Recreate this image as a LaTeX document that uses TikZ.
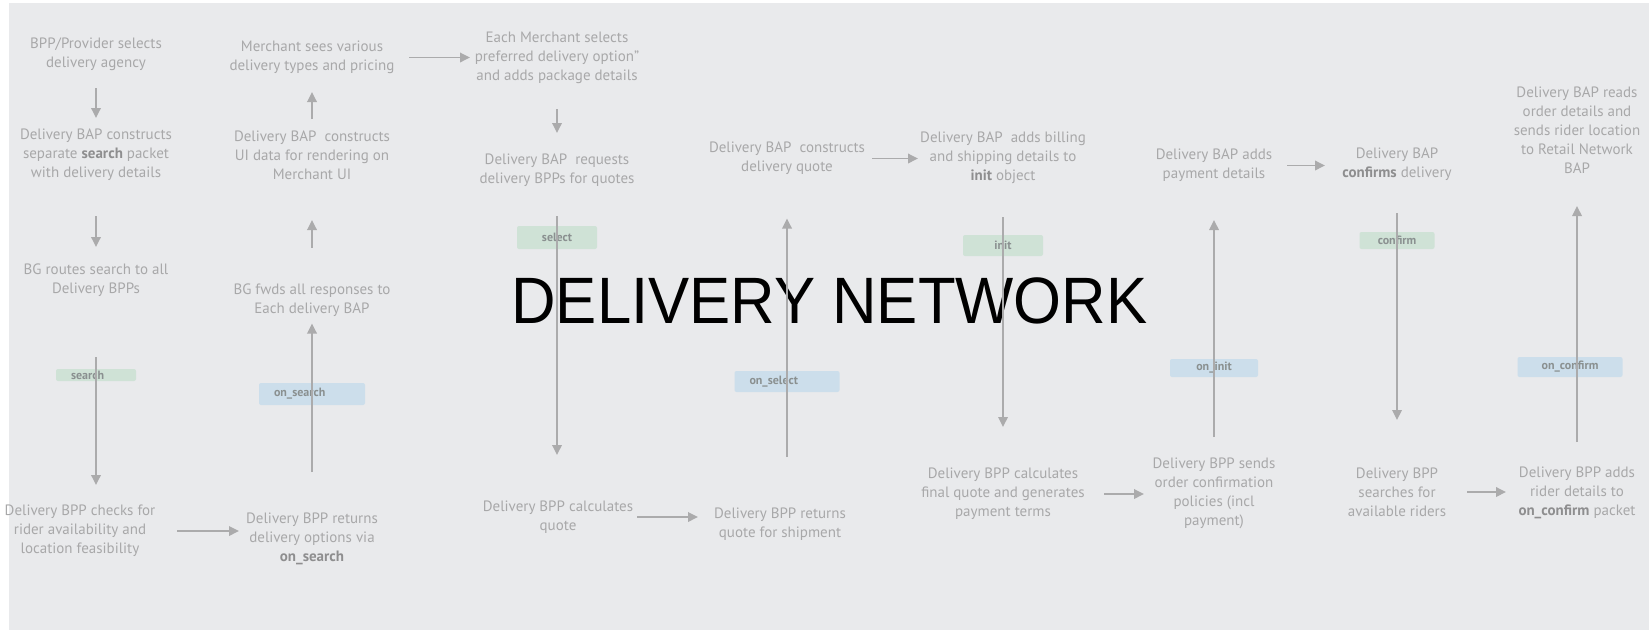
\documentclass[tikz,border=0pt]{standalone}
\usepackage{fontspec}
\setmainfont{PT Sans}
\newfontfamily\titlefont{Liberation Sans}
\usetikzlibrary{arrows.meta}
\definecolor{bggray}{HTML}{E9EAEC}
\definecolor{txtgray}{HTML}{A8A8A9}
\definecolor{keygray}{HTML}{8E8E8F}
\definecolor{arrgray}{HTML}{ABABAC}
\definecolor{reqgreen}{HTML}{CFE2D6}
\definecolor{respblue}{HTML}{CCDEEB}
\definecolor{taggray}{HTML}{8A9090}
\newcommand{\kw}[1]{\textcolor{keygray}{\bfseries #1}}

\begin{document}
\begin{tikzpicture}[x=1pt,y=-1pt,>={Triangle[length=10pt,width=9.5pt]},
  txt/.style={align=center,text=txtgray,inner sep=0pt,
    font=\fontsize{15}{19}\selectfont},
  flow/.style={draw=arrgray,line width=1.8pt,->},
  tag/.style={rounded corners=2pt,text=taggray,inner sep=0pt,
    font=\fontsize{12}{12}\selectfont\bfseries},
  lefttag/.style={align=left,inner xsep=15pt,text width=#1},
  reqtag/.style={tag,fill=reqgreen},
  resptag/.style={tag,fill=respblue}]
\useasboundingbox (0,0) rectangle (1649,630);
\fill[bggray] (9,3) rectangle (1649,630);
% title
\node[inner sep=0pt] (title) at (829.5,300.5)
  {\scalebox{0.94}[1]{\titlefont\fontsize{65.6}{70}\selectfont DELIVERY NETWORK}};
% search column
\node[txt] (n11) at (96,54) {BPP/Provider selects\\delivery agency};
\node[txt] (n12) at (96,155) {Delivery BAP constructs\\separate \kw{search} packet\\with delivery details};
\node[txt] (n13) at (96,280) {BG routes search to all\\Delivery BPPs};
\node[txt] (n14) at (80,531) {Delivery BPP checks for\\rider availability and\\location feasibility};
% on_search column
\node[txt] (n21) at (312,57.5) {Merchant sees various\\delivery types and pricing};
\node[txt] (n22) at (312,155) {Delivery BAP\ \ constructs\\UI data for rendering on\\Merchant UI};
\node[txt] (n23) at (312,300.5) {BG fwds all responses to\\Each delivery BAP};
\node[txt] (n24) at (312,539) {Delivery BPP returns\\delivery options via\\\kw{on\_search}};
% select
\node[txt] (n31) at (557,58) {Each Merchant selects\\preferred delivery option"\\and adds package details};
\node[txt] (n32) at (557,170) {Delivery BAP\ \ requests\\delivery BPPs for quotes};
\node[txt] (n33) at (558,517) {Delivery BPP calculates\\quote};
\node[txt] (n41) at (787,158.5) {Delivery BAP\ \ constructs\\delivery quote};
\node[txt] (n42) at (780,524) {Delivery BPP returns\\quote for shipment};
% init
\node[txt] (n51) at (1003,158) {Delivery BAP\ \ adds billing\\and shipping details to\\\kw{init} object};
\node[txt] (n52) at (1003,494) {Delivery BPP calculates\\final quote and generates\\payment terms};
\node[txt] (n61) at (1214,165.5) {Delivery BAP adds\\payment details};
\node[txt] (n62) at (1214,493.5) {Delivery BPP sends\\order confirmation\\policies (incl\\payment)};
% confirm
\node[txt] (n71) at (1397,164.5) {Delivery BAP\\\kw{confirms} delivery};
\node[txt] (n72) at (1397,492) {Delivery BPP\\searches for\\available riders};
\node[txt] (n81) at (1577,130) {Delivery BAP reads\\order details and\\sends rider location\\to Retail Network\\BAP};
\node[txt] (n82) at (1577,492.5) {Delivery BPP adds\\rider details to\\\kw{on\_confirm} packet};
% message tags
\node[reqtag,lefttag=50pt,minimum height=12pt] (tsearch) at (96,375) {search};
\node[resptag,lefttag=76pt,minimum height=22pt] (tonsearch) at (312,394) {on\_search};
\node[reqtag,minimum width=80pt,minimum height=23pt] (tselect) at (557,237.5) {select};
\node[resptag,lefttag=75pt,minimum height=21pt] (tonselect) at (787,381.5) {on\_select};
\node[reqtag,minimum width=80pt,minimum height=21pt] (tinit) at (1003,245.5) {init};
\node[resptag,minimum width=88pt,minimum height=18pt] (toninit) at (1214,368) {on\_init};
\node[reqtag,minimum width=75pt,minimum height=17pt] (tconfirm) at (1397,240.5) {confirm};
\node[resptag,minimum width=105pt,minimum height=20pt] (tonconfirm) at (1570,367) {on\_confirm};
% arrows
\draw[flow,shorten <=34pt,shorten >=37pt] (n11.center) -- (n12.center);
\draw[flow,shorten <=61pt,shorten >=33pt] (n12.center) -- (n13.center);
\draw[flow,shorten <=77pt,shorten >=46pt] (n13.center) -- (n13 |- n14);
\draw[flow,shorten <=97pt,shorten >=73pt] (n14.center) -- (n14 -| n24);
\draw[flow,shorten <=67pt,shorten >=23pt] (n24.center) -- (n23.center);
\draw[flow,shorten <=53pt,shorten >=65pt] (n23.center) -- (n22.center);
\draw[flow,shorten <=36pt,shorten >=34.5pt] (n22.center) -- (n21.center);
\draw[flow,shorten <=97pt,shorten >=87pt] (n21.center) -- (n21 -| n31);
\draw[flow,shorten <=51pt,shorten >=37pt] (n31.center) -- (n32.center);
\draw[flow,shorten <=46pt,shorten >=62pt] (n32.center) -- (n32 |- n33);
\draw[flow,shorten <=79pt,shorten >=82pt] (n33.center) -- (n33 -| n42);
\draw[flow,shorten <=67pt,shorten >=60pt] (n41 |- n42) -- (n41.center);
\draw[flow,shorten <=85pt,shorten >=85pt] (n41.center) -- (n41 -| n51);
\draw[flow,shorten <=59pt,shorten >=67pt] (n51.center) -- (n52.center);
\draw[flow,shorten <=101pt,shorten >=70pt] (n52.center) -- (n52 -| n62);
\draw[flow,shorten <=56.5pt,shorten >=54.5pt] (n62.center) -- (n61.center);
\draw[flow,shorten <=73pt,shorten >=72pt] (n61.center) -- (n61 -| n71);
\draw[flow,shorten <=48.5pt,shorten >=72pt] (n71.center) -- (n72.center);
\draw[flow,shorten <=70pt,shorten >=71pt] (n72.center) -- (n72 -| n82);
\draw[flow,shorten <=50.5pt,shorten >=76pt] (n82.center) -- (n81.center);
\end{tikzpicture}
\end{document}
